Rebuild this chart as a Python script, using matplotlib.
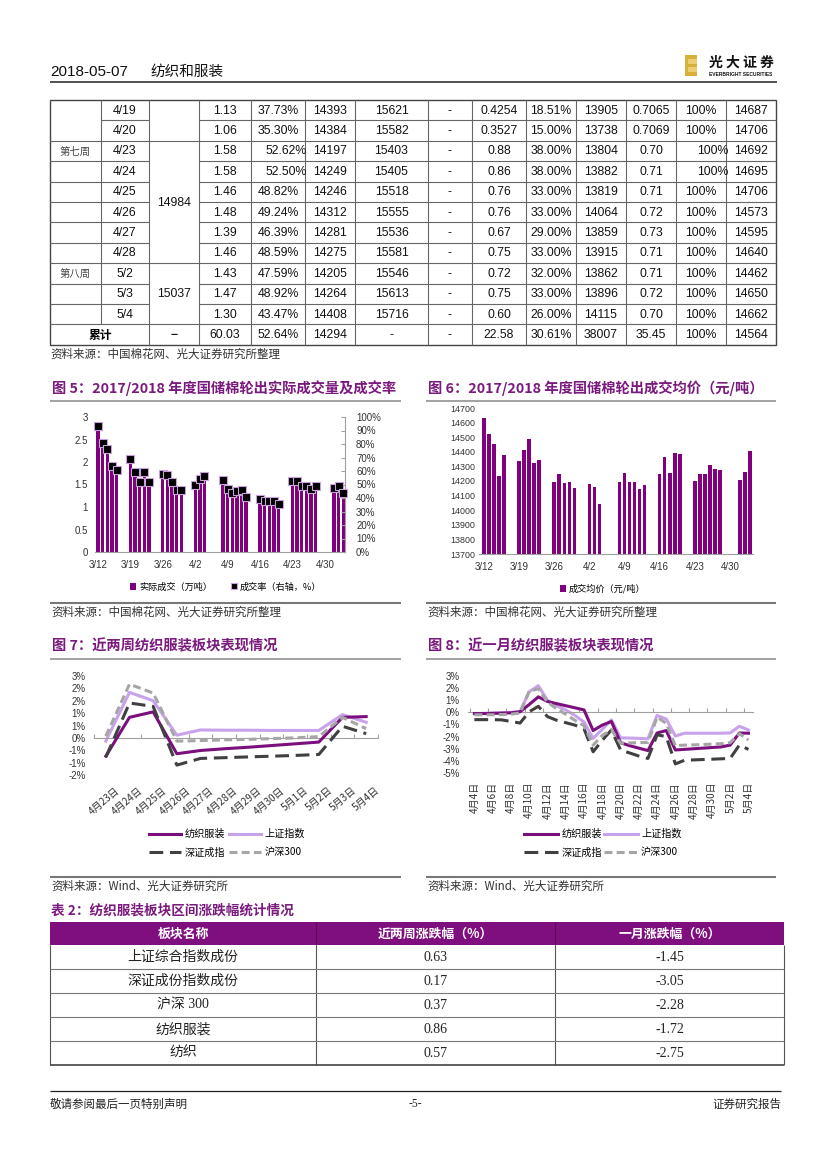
import numpy as np
import pandas as pd
import matplotlib
matplotlib.use("Agg")
import matplotlib.pyplot as plt
from matplotlib.patches import Rectangle, Patch
from matplotlib.lines import Line2D
from matplotlib.transforms import ScaledTranslation

# ======================= DATA =======================
# ---- top table (continued from previous page) ----
t_week = ["", "", "第七周", "", "", "", "", "", "第八周", "", "", "累计"]
t_date = ["4/19", "4/20", "4/23", "4/24", "4/25", "4/26", "4/27", "4/28", "5/2", "5/3", "5/4", ""]
t_base = ["", "", "14984", "14984", "14984", "14984", "14984", "14984", "15037", "15037", "15037", "−"]
t_vol = ["1.13", "1.06", "1.58", "1.58", "1.46", "1.48", "1.39", "1.46", "1.43", "1.47", "1.30", "60.03"]
t_rate = ["37.73%", "35.30%", "52.62%", "52.50%", "48.82%", "49.24%", "46.39%", "48.59%", "47.59%", "48.92%", "43.47%", "52.64%"]
t_price = ["14393", "14384", "14197", "14249", "14246", "14312", "14281", "14275", "14205", "14264", "14408", "14294"]
t_c7 = ["15621", "15582", "15403", "15405", "15518", "15555", "15536", "15581", "15546", "15613", "15716", "-"]
t_c8 = ["-", "-", "-", "-", "-", "-", "-", "-", "-", "-", "-", "-"]
t_c9 = ["0.4254", "0.3527", "0.88", "0.86", "0.76", "0.76", "0.67", "0.75", "0.72", "0.75", "0.60", "22.58"]
t_c10 = ["18.51%", "15.00%", "38.00%", "38.00%", "33.00%", "33.00%", "29.00%", "33.00%", "32.00%", "33.00%", "26.00%", "30.61%"]
t_c11 = ["13905", "13738", "13804", "13882", "13819", "14064", "13859", "13915", "13862", "13896", "14115", "38007"]
t_c12 = ["0.7065", "0.7069", "0.70", "0.71", "0.71", "0.72", "0.73", "0.71", "0.71", "0.72", "0.70", "35.45"]
t_c13 = ["100%", "100%", "100%", "100%", "100%", "100%", "100%", "100%", "100%", "100%", "100%", "100%"]
t_c14 = ["14687", "14706", "14692", "14695", "14706", "14573", "14595", "14640", "14462", "14650", "14662", "14564"]

# ---- Fig 5 / Fig 6 ----
trade_dates = ["3/12", "3/13", "3/14", "3/15", "3/16",
               "3/19", "3/20", "3/21", "3/22", "3/23",
               "3/26", "3/27", "3/28", "3/29", "3/30",
               "4/2", "4/3", "4/4",
               "4/8", "4/9", "4/10", "4/11", "4/12", "4/13",
               "4/16", "4/17", "4/18", "4/19", "4/20",
               "4/23", "4/24", "4/25", "4/26", "4/27", "4/28",
               "5/2", "5/3", "5/4"]
deal_vol = [2.80, 2.43, 2.28, 1.91, 1.84,
            2.06, 1.78, 1.57, 1.78, 1.57,
            1.74, 1.72, 1.56, 1.39, 1.39,
            1.50, 1.61, 1.69,
            1.59, 1.42, 1.33, 1.35, 1.39, 1.24,
            1.16, 1.15, 1.14, 1.13, 1.06,
            1.58, 1.58, 1.46, 1.48, 1.39, 1.46,
            1.43, 1.47, 1.30]
deal_rate = [93, 81, 76, 64, 61,
             69, 59, 52, 59, 52,
             58, 57, 52, 46, 46,
             50, 54, 56,
             53, 47, 44, 45, 46, 41,
             39, 38, 38, 37.73, 35.30,
             52.62, 52.50, 48.82, 49.24, 46.39, 48.59,
             47.59, 48.92, 43.47]
deal_price = [14630, 14520, 14455, 14235, 14380,
              14335, 14410, 14485, 14325, 14345,
              14190, 14245, 14185, 14190, 14155,
              14180, 14160, 14040,
              14190, 14255, 14190, 14195, 14145, 14170,
              14250, 14365, 14255, 14393, 14384,
              14197, 14249, 14246, 14312, 14281, 14275,
              14205, 14264, 14408]
tick_dates = ["3/12", "3/19", "3/26", "4/2", "4/9", "4/16", "4/23", "4/30"]
y5_ticks = [0, 0.5, 1, 1.5, 2, 2.5, 3]
y5_labels = ["0", "0.5", "1", "1.5", "2", "2.5", "3"]
y5r_ticks = [0, 10, 20, 30, 40, 50, 60, 70, 80, 90, 100]
y5r_labels = ["0%", "10%", "20%", "30%", "40%", "50%", "60%", "70%", "80%", "90%", "100%"]
y6_ticks = [13700, 13800, 13900, 14000, 14100, 14200, 14300, 14400, 14500, 14600, 14700]

# ---- Fig 7 (two weeks) ----
c7_dates = ["4月23日", "4月24日", "4月25日", "4月26日", "4月27日", "4月28日",
            "4月29日", "4月30日", "5月1日", "5月2日", "5月3日", "5月4日"]
fz7 = [-0.74, 0.83, 1.05, -0.64, -0.51, -0.44, -0.38, -0.31, -0.24, -0.17, 0.83, 0.86]
sh7 = [-0.13, 1.84, 1.50, 0.11, 0.32, 0.31, 0.31, 0.30, 0.30, 0.30, 0.94, 0.63]
sz7 = [-0.78, 1.41, 1.27, -1.10, -0.83, -0.80, -0.77, -0.74, -0.71, -0.67, 0.47, 0.17]
hs7 = [0.07, 2.17, 1.81, -0.13, -0.11, -0.08, -0.06, -0.03, 0.00, 0.05, 0.83, 0.37]
y7_ticks = [-1.5, -1, -0.5, 0, 0.5, 1, 1.5, 2, 2.5]
y7_labels = ["-2%", "-1%", "-1%", "0%", "1%", "1%", "2%", "2%", "3%"]

# ---- Fig 8 (one month) ----
c8_dates = ["4月4日", "4月5日", "4月6日", "4月7日", "4月8日", "4月9日", "4月10日", "4月11日",
            "4月12日", "4月13日", "4月14日", "4月15日", "4月16日", "4月17日", "4月18日", "4月19日",
            "4月20日", "4月21日", "4月22日", "4月23日", "4月24日", "4月25日", "4月26日", "4月27日",
            "4月28日", "4月29日", "4月30日", "5月1日", "5月2日", "5月3日", "5月4日"]
fz8 = [-0.10, -0.10, -0.08, -0.06, -0.04, 0.05, 0.65, 1.28, 0.90, 0.72, 0.55, 0.38, 0.20, -1.50, -1.05,
       -0.75, -2.50, -2.75, -2.95, -3.15, -1.70, -1.50, -3.10, -3.05, -3.00, -2.95, -2.90, -2.85, -2.70,
       -1.70, -1.72]
sh8 = [-0.10, -0.08, -0.06, -0.03, 0.00, 0.08, 1.70, 2.20, 1.00, 0.55, 0.20, -0.25, -0.80, -2.15, -1.40,
       -0.62, -2.10, -2.12, -2.14, -2.18, -0.25, -0.55, -1.95, -1.72, -1.72, -1.72, -1.72, -1.72, -1.70,
       -1.15, -1.45]
sz8 = [-0.60, -0.60, -0.60, -0.62, -0.75, -0.88, 0.05, 0.50, -0.35, -0.65, -0.85, -1.05, -1.35, -3.25, -2.30,
       -1.45, -3.10, -3.35, -3.60, -3.80, -1.85, -2.00, -4.25, -3.95, -3.92, -3.89, -3.86, -3.83, -3.80,
       -2.70, -3.05]
hs8 = [-0.20, -0.20, -0.20, -0.18, -0.15, -0.05, 1.75, 1.95, 0.85, 0.30, -0.15, -0.65, -1.10, -2.70, -1.90,
       -1.45, -2.55, -2.52, -2.50, -2.48, -0.40, -0.90, -2.75, -2.70, -2.68, -2.65, -2.62, -2.58, -2.50,
       -1.75, -2.28]
y8_ticks = [-5, -4, -3, -2, -1, 0, 1, 2, 3]
y8_labels = ["-5%", "-4%", "-3%", "-2%", "-1%", "0%", "1%", "2%", "3%"]
series_names = ["纺织服装", "上证指数", "深证成指", "沪深300"]

# ---- Table 2 ----
t2_header = ["板块名称", "近两周涨跌幅（%）", "一月涨跌幅（%）"]
t2_names = ["上证综合指数成份", "深证成份指数成份", "沪深 300", "纺织服装", "纺织"]
t2_2w = ["0.63", "0.17", "0.37", "0.86", "0.57"]
t2_1m = ["-1.45", "-3.05", "-2.28", "-1.72", "-2.75"]

# ======================= STYLE =======================
W, H = 827, 1169
plt.rcParams['font.family'] = ['Liberation Sans', 'Noto Sans CJK SC', 'DejaVu Sans']
CJK = ['Noto Sans CJK SC', 'Liberation Sans', 'DejaVu Sans']
SERIF = ['Liberation Serif', 'Noto Sans CJK SC', 'DejaVu Sans']
PURPLE = '#800080'
TPURPLE = '#7B1A7E'
C_FZ, C_SH, C_SZ, C_HS = '#7B0F7E', '#C9A2EC', '#404040', '#A6A6A6'
AXC = '#A0A0A0'

fig = plt.figure(figsize=(W / 100, H / 100), dpi=100)
page = fig.add_axes([0, 0, 1, 1])
page.set_xlim(0, W)
page.set_ylim(H, 0)
page.axis('off')


def px_axes(x0, y0, x1, y1):
    a = fig.add_axes([x0 / W, 1 - y1 / H, (x1 - x0) / W, (y1 - y0) / H])
    a.set_facecolor('none')
    return a


def hline(x0, x1, y, c='#666', lw=0.8):
    page.plot([x0, x1], [y, y], color=c, lw=lw, solid_capstyle='butt')


def vline(x, y0, y1, c='#666', lw=0.8):
    page.plot([x, x], [y0, y1], color=c, lw=lw, solid_capstyle='butt')


# ======================= HEADER =======================
page.text(50, 72, "2018-05-07", fontsize=11, va='center', color='#111')
page.text(150, 72, "纺织和服装", fontsize=10.5, va='center', family=CJK, color='#111')
hline(50, 777, 82, c='#222', lw=1.1)
page.add_patch(Rectangle((685, 55), 12, 21, color='#D6B03A', lw=0))
page.add_patch(Rectangle((688, 59), 9, 5, color='#EBCF72', lw=0))
page.add_patch(Rectangle((688, 67), 9, 5, color='#EBCF72', lw=0))
page.text(709, 63, "光 大 证 券", fontsize=10, fontweight='bold', va='center', family=CJK, color='#111')
page.text(709, 74.5, "EVERBRIGHT SECURITIES", fontsize=3.5, fontweight='bold', va='center', color='#111')

# ======================= TOP TABLE =======================
col_x = [50, 101, 149, 199, 251, 305, 355, 428, 472, 526, 576, 626, 676, 726, 776]
ys = [100 + i * 20.4 for i in range(13)]
n = len(t_date)
page.add_patch(Rectangle((50, ys[0]), 726, ys[-1] - ys[0], fill=False, ec='#444', lw=1.0))
for j, x in enumerate(col_x[1:-1], start=1):
    vline(x, ys[0], ys[-2] if j == 1 else ys[-1])
for i in range(1, n):
    y = ys[i]
    if i != 1:
        hline(50, 101, y)
    hline(101, 149, y)
    if t_base[i] != t_base[i - 1]:
        hline(149, 199, y)
    hline(199, 776, y)

cols = [t_vol, t_rate, t_price, t_c7, t_c8, t_c9, t_c10, t_c11, t_c12, t_c13, t_c14]
right_cells = {(2, 1), (3, 1), (2, 9), (3, 9)}
for r in range(n):
    yc = (ys[r] + ys[r + 1]) / 2 + 0.5
    if r == n - 1:
        page.text(100, yc, t_week[r], fontsize=8.5, fontweight='bold', ha='center', va='center', family=CJK)
    else:
        page.text(75.5, yc, t_week[r], fontsize=7.5, ha='center', va='center', family=CJK, color='#444')
        page.text(125, yc, t_date[r], fontsize=8.8, ha='center', va='center', color='#111')
    for k, col in enumerate(cols):
        c = k + 3
        if (r, k) in right_cells:
            page.text(col_x[c + 1] + 2, yc, col[r], fontsize=8.8, ha='right', va='center', color='#111')
        else:
            page.text((col_x[c] + col_x[c + 1]) / 2, yc, col[r], fontsize=8.8, ha='center', va='center',
                      color='#111')
# merged base column
start = 0
for i in range(1, n + 1):
    if i == n or t_base[i] != t_base[start]:
        if t_base[start]:
            yc = (ys[start] + ys[i]) / 2 + 0.5
            fw = 'bold' if t_base[start] == "−" else 'normal'
            page.text(174, yc, t_base[start], fontsize=8.8, ha='center', va='center', fontweight=fw, color='#111')
        start = i

page.text(50, 354, "资料来源：中国棉花网、光大证券研究所整理", fontsize=8.3, va='center', family=CJK, color='#333')


# ======================= TITLES / SOURCES =======================
def block_title(x0, x1, y, txt):
    page.text(x0 + 2, y, txt, fontsize=10.3, fontweight='bold', va='center', family=CJK, color=TPURPLE)
    hline(x0, x1, y + 13, c='#9A9A9A', lw=1.3)


def block_source(x0, x1, y, txt):
    hline(x0, x1, y, c='#777', lw=1.5)
    page.text(x0 + 1, y + 9, txt, fontsize=8.3, va='center', family=CJK, color='#333')


block_title(50, 401, 388, "图 5：2017/2018 年度国储棉轮出实际成交量及成交率")
block_title(426, 776, 388, "图 6：2017/2018 年度国储棉轮出成交均价（元/吨）")
block_source(50, 401, 603, "资料来源：中国棉花网、光大证券研究所整理")
block_source(426, 776, 603, "资料来源：中国棉花网、光大证券研究所整理")
block_title(50, 401, 646, "图 7：近两周纺织服装板块表现情况")
block_title(426, 776, 646, "图 8：近一月纺织服装板块表现情况")
block_source(50, 401, 877, "资料来源：Wind、光大证券研究所")
block_source(426, 776, 877, "资料来源：Wind、光大证券研究所")

# ======================= FIG 5 =======================
d5 = pd.to_datetime(["2018/" + d for d in trade_dates])
dt = pd.to_datetime(["2018/" + d for d in tick_dates])
ax5 = px_axes(95, 417, 345, 552)
ax5.bar(d5, deal_vol, width=0.72, color=PURPLE, lw=0, zorder=2, clip_on=False)
ax5.set_ylim(0, 3)
ax5.set_xlim(pd.Timestamp("2018-03-12") - pd.Timedelta(hours=15.6),
             pd.Timestamp("2018-05-04") + pd.Timedelta(hours=8.4))
ax5.set_yticks(y5_ticks)
ax5.set_yticklabels(y5_labels)
ax5.set_xticks(dt)
ax5.set_xticklabels(tick_dates)
ax5.tick_params(axis='y', length=0, pad=5, labelsize=7, labelcolor='#333')
ax5.tick_params(axis='x', length=0, pad=5.5, labelsize=7, labelcolor='#333')
for s in ['top', 'left', 'right']:
    ax5.spines[s].set_visible(False)
ax5.spines['bottom'].set_color(AXC)
ax5.spines['bottom'].set_linewidth(0.8)
ax5r = ax5.twinx()
ax5r.set_facecolor('none')
ax5r.plot(d5, deal_rate, ls='none', marker='s', ms=5.6, mfc='black', mec='#C9A0DC', mew=0.8,
          zorder=3, clip_on=False)
ax5r.set_ylim(0, 100)
ax5r.set_yticks(y5r_ticks)
ax5r.set_yticklabels(y5r_labels)
ax5r.tick_params(axis='y', direction='in', length=3, color=AXC, pad=8, labelsize=7, labelcolor='#333')
for s in ['top', 'left', 'bottom']:
    ax5r.spines[s].set_visible(False)
ax5r.spines['right'].set_color(AXC)
ax5r.spines['right'].set_linewidth(0.8)

fig.legend([Patch(facecolor=PURPLE, lw=0),
            Line2D([], [], ls='none', marker='s', ms=5, mfc='black', mec='#C9A0DC', mew=0.8)],
           ["实际成交（万吨）", "成交率（右轴，%）"], loc='center left', bbox_to_anchor=(130, 587),
           bbox_transform=page.transData, ncol=2, frameon=False, handlelength=0.7,
           handleheight=0.7, handletextpad=0.3, columnspacing=2.0, borderpad=0, borderaxespad=0,
           prop={'family': CJK, 'size': 6.6})

# ======================= FIG 6 =======================
ax6 = px_axes(479, 408, 753, 554)
ax6.bar(d5, deal_price, width=0.72, color=PURPLE, lw=0, zorder=2)
ax6.set_ylim(13700, 14700)
ax6.set_xlim(pd.Timestamp("2018-03-12") - pd.Timedelta(days=1.0),
             pd.Timestamp("2018-05-04") + pd.Timedelta(days=0.6))
ax6.set_yticks(y6_ticks)
ax6.set_yticklabels([str(v) for v in y6_ticks])
ax6.set_xticks(dt)
ax6.set_xticklabels(tick_dates)
ax6.tick_params(axis='y', length=0, pad=3, labelsize=6.4, labelcolor='#333')
ax6.tick_params(axis='x', length=0, pad=6, labelsize=7, labelcolor='#333')
for s in ['top', 'left', 'right']:
    ax6.spines[s].set_visible(False)
ax6.spines['bottom'].set_color(AXC)
ax6.spines['bottom'].set_linewidth(0.8)
fig.legend([Patch(facecolor=PURPLE, lw=0)], ["成交均价（元/吨）"], loc='center left',
           bbox_to_anchor=(560, 589), bbox_transform=page.transData, frameon=False,
           handlelength=0.7, handleheight=0.7, handletextpad=0.3, borderpad=0, borderaxespad=0,
           prop={'family': CJK, 'size': 6.6})


# ======================= FIG 7 / FIG 8 =======================
def line_chart(ax, cats, fz, sh, sz, hs, yt, yl, ylim, xlim, lab_idx, rot, pad, minor, xoff):
    # spine position first (it resets the ticks)
    for s in ['top', 'left', 'right']:
        ax.spines[s].set_visible(False)
    ax.spines['bottom'].set_position(('data', 0))
    ax.spines['bottom'].set_color(AXC)
    ax.spines['bottom'].set_linewidth(0.8)
    x = np.arange(len(cats))
    l1, = ax.plot(x, fz, color=C_FZ, lw=2.2, zorder=3)
    l2, = ax.plot(x, sh, color=C_SH, lw=2.2, zorder=2)
    l3, = ax.plot(x, sz, color=C_SZ, lw=2.2, ls=(0, (4.5, 2.2)), zorder=4)
    l4, = ax.plot(x, hs, color=C_HS, lw=2.2, ls=(0, (2.6, 1.4)), zorder=5)
    ax.set_ylim(*ylim)
    ax.set_xlim(*xlim)
    ax.set_yticks(yt)
    ax.set_yticklabels(yl)
    ax.tick_params(axis='y', length=0, pad=6, labelsize=7, labelcolor='#333')
    ax.set_xticks(x[lab_idx])
    ax.set_xticks(minor, minor=True)
    ax.tick_params(axis='x', which='major', length=0, pad=pad)
    ax.tick_params(axis='x', which='minor', direction='in', length=3, color=AXC, width=0.8)
    if rot == 90:
        ax.set_xticklabels([cats[i] for i in lab_idx], rotation=90, ha='center', va='top',
                           fontfamily=CJK, fontsize=7.2, color='#333')
    else:
        ax.set_xticklabels([cats[i] for i in lab_idx], rotation=rot, ha='right', va='top',
                           rotation_mode='anchor', fontfamily=CJK, fontsize=7.2, color='#333')
    if xoff:
        for lab in ax.get_xticklabels():
            lab.set_transform(lab.get_transform() + ScaledTranslation(xoff / 100, 0, fig.dpi_scale_trans))
    return l1, l2, l3, l4


ax7 = px_axes(94, 676, 378, 775)
h7 = line_chart(ax7, c7_dates, fz7, sh7, sz7, hs7, y7_ticks, y7_labels, (-1.5, 2.5), (-0.5, 11.5),
                list(range(len(c7_dates))), 40, 34, np.arange(-0.5, 12, 1), 9)
ax8 = px_axes(468, 676, 753, 773)
h8 = line_chart(ax8, c8_dates, fz8, sh8, sz8, hs8, y8_ticks, y8_labels, (-5, 3), (-0.7, 30.5),
                list(range(0, len(c8_dates), 2)), 90, 50, np.arange(-0.5, 31, 2), 0)

for (hh, x0, cs, hl) in [(h7, 149, 0.4, 3.2), (h8, 524, 0.15, 3.4)]:
    fig.legend([hh[0], hh[2], hh[1], hh[3]],
               [series_names[0], series_names[2], series_names[1], series_names[3]],
               loc='upper left', bbox_to_anchor=(x0, 829), bbox_transform=page.transData, ncol=2,
               frameon=False, handlelength=hl, handletextpad=0.3, columnspacing=cs, labelspacing=0.8,
               borderpad=0, borderaxespad=0, prop={'family': CJK, 'size': 7.3})

# ======================= TABLE 2 =======================
page.text(51, 911, "表 2：纺织服装板块区间涨跌幅统计情况", fontsize=9.8, fontweight='bold', va='center',
          family=CJK, color=TPURPLE)
t2_x = [50, 316, 555, 784]
t2_y = [922, 945, 969, 993, 1017, 1041, 1065]
page.add_patch(Rectangle((t2_x[0], t2_y[0]), t2_x[-1] - t2_x[0], t2_y[1] - t2_y[0], color='#7F0F7E', lw=0))
for j in range(3):
    page.text((t2_x[j] + t2_x[j + 1]) / 2, (t2_y[0] + t2_y[1]) / 2 + 0.5, t2_header[j], fontsize=9.3,
              fontweight='bold', ha='center', va='center', color='white', family=CJK)
for x in t2_x:
    vline(x, t2_y[1], t2_y[-1], c='#555', lw=0.8)
for x in t2_x[1:-1]:
    vline(x, t2_y[0], t2_y[1], c='#5A0A5A', lw=0.8)
for y in t2_y[2:-1]:
    hline(t2_x[0], t2_x[-1], y, c='#777', lw=0.8)
hline(t2_x[0], t2_x[-1], t2_y[-1], c='#444', lw=1.2)
for r in range(len(t2_names)):
    yc = (t2_y[r + 1] + t2_y[r + 2]) / 2 + 0.5
    page.text((t2_x[0] + t2_x[1]) / 2, yc, t2_names[r], fontsize=10, ha='center', va='center',
              family=SERIF, color='#222')
    page.text((t2_x[1] + t2_x[2]) / 2, yc, t2_2w[r], fontsize=10, ha='center', va='center',
              family=SERIF, color='#222')
    page.text((t2_x[2] + t2_x[3]) / 2, yc, t2_1m[r], fontsize=10, ha='center', va='center',
              family=SERIF, color='#222')

# ======================= FOOTER =======================
hline(50, 781, 1091, c='#222', lw=0.9)
page.text(50, 1104, "敬请参阅最后一页特别声明", fontsize=8.3, va='center', family=CJK, color='#222')
page.text(415, 1104, "-5-", fontsize=8.3, va='center', ha='center', family=SERIF, color='#222')
page.text(781, 1104, "证券研究报告", fontsize=8.3, va='center', ha='right', family=CJK, color='#222')

fig.savefig("out.png", dpi=100)
